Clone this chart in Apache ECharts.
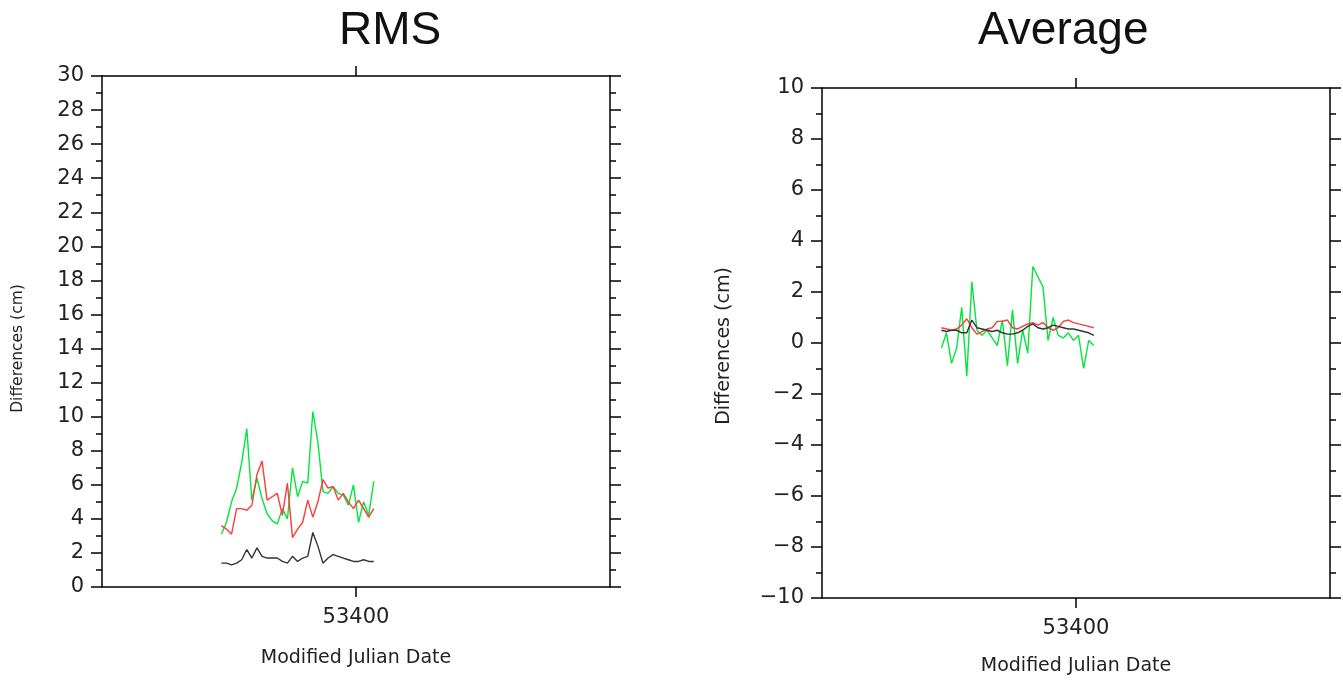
<!DOCTYPE html>
<html>
<head>
<meta charset="utf-8">
<script src="https://cdn.jsdelivr.net/npm/echarts@6/dist/echarts.min.js"></script>
<style>
    html, body { margin: 0; padding: 0; background: #fff; }
    #main { width: 1343px; height: 681px; }
</style>
</head>
<body>
<div id="main"></div>
<script>
// MJD dates of the samples
var dates = [53347, 53349, 53351, 53353, 53355, 53357, 53359, 53361, 53363, 53365,
             53367, 53369, 53371, 53373, 53375, 53377, 53379, 53381, 53383, 53385,
             53387, 53389, 53391, 53393, 53395, 53397, 53399, 53401, 53403, 53405, 53407];

// RMS (cm)
var rmsGreen = [3.1, 3.8, 5.0, 5.8, 7.3, 9.3, 5.1, 6.4, 5.2, 4.3, 3.9, 3.7, 4.6, 4.0, 7.0, 5.3,
                6.2, 6.1, 10.3, 8.5, 5.6, 5.5, 5.9, 5.5, 5.4, 4.8, 6.0, 3.8, 5.0, 4.2, 6.2];
var rmsRed = [3.6, 3.4, 3.1, 4.6, 4.6, 4.5, 4.8, 6.6, 7.4, 5.1, 5.3, 5.5, 4.2, 6.1, 2.9, 3.4,
              3.8, 5.1, 4.1, 5.0, 6.3, 5.8, 5.9, 5.1, 5.5, 5.0, 4.6, 5.1, 4.6, 4.1, 4.6];
var rmsBlack = [1.4, 1.4, 1.3, 1.4, 1.6, 2.2, 1.7, 2.3, 1.8, 1.7, 1.7, 1.7, 1.5, 1.4, 1.8, 1.5,
                1.7, 1.8, 3.2, 2.4, 1.4, 1.7, 1.9, 1.8, 1.7, 1.6, 1.5, 1.5, 1.6, 1.5, 1.5];

// Average (cm)
var avgGreen = [-0.2, 0.4, -0.8, -0.2, 1.4, -1.3, 2.4, 0.5, 0.3, 0.5, 0.2, -0.1, 0.9, -0.9, 1.3, -0.8,
                0.5, -0.4, 3.0, 2.6, 2.2, 0.1, 1.0, 0.3, 0.2, 0.4, 0.1, 0.3, -1.0, 0.1, -0.1];
var avgRed = [0.6, 0.55, 0.5, 0.55, 0.7, 0.95, 0.6, 0.35, 0.45, 0.55, 0.6, 0.85, 0.85, 0.9, 0.6, 0.55,
              0.65, 0.75, 0.8, 0.7, 0.8, 0.6, 0.5, 0.6, 0.85, 0.9, 0.8, 0.75, 0.7, 0.65, 0.6];
var avgBlack = [0.5, 0.45, 0.5, 0.5, 0.4, 0.4, 0.9, 0.6, 0.55, 0.5, 0.45, 0.5, 0.4, 0.35, 0.35, 0.4,
                0.5, 0.65, 0.75, 0.6, 0.55, 0.6, 0.7, 0.65, 0.6, 0.55, 0.55, 0.5, 0.45, 0.4, 0.3];

var xTicks = [53400];

var TITLE_FONT = 'Liberation Sans, Arial, sans-serif';
var FONT = 'DejaVu Sans, sans-serif';
var lineStyle = { color: '#000', width: 1.5 };

function pairs(vals) {
    var out = [];
    for (var i = 0; i < dates.length; i++) out.push([dates[i], vals[i]]);
    return out;
}

function xAxes(grid, gap) {
    return [{
        gridIndex: grid, type: 'value', position: 'bottom',
        min: 53300, max: 53500,
        name: 'Modified Julian Date', nameLocation: 'middle', nameGap: gap,
        nameTextStyle: { fontFamily: FONT, fontSize: 19, color: '#222' },
        axisLine: { onZero: false, lineStyle: lineStyle },
        axisTick: { customValues: xTicks, length: 10, lineStyle: lineStyle },
        axisLabel: { customValues: xTicks, margin: 20, formatter: function (v) { return String(v); },
                     fontFamily: FONT, fontSize: 21, color: '#222' },
        splitLine: { show: false }
    }, {
        gridIndex: grid, type: 'value', position: 'top',
        min: 53300, max: 53500,
        axisLine: { onZero: false, lineStyle: lineStyle },
        axisTick: { customValues: xTicks, length: 10, lineStyle: lineStyle },
        axisLabel: { show: false },
        splitLine: { show: false }
    }];
}

function yAxes(grid, min, max, gap, nameSize, namePad) {
    var fmt = function (v) { return v < 0 ? '\u2212' + (-v) : '' + v; };
    return [{
        gridIndex: grid, type: 'value', position: 'left',
        min: min, max: max, interval: 2,
        name: 'Differences (cm)', nameLocation: 'middle', nameGap: gap,
        nameTextStyle: { fontFamily: FONT, fontSize: nameSize, color: '#222', padding: namePad },
        axisLine: { onZero: false, lineStyle: lineStyle },
        axisTick: { length: 11, lineStyle: lineStyle },
        minorTick: { show: true, splitNumber: 2, length: 6, lineStyle: lineStyle },
        axisLabel: { margin: 18, formatter: fmt, fontFamily: FONT, fontSize: 21, color: '#222' },
        splitLine: { show: false }
    }, {
        gridIndex: grid, type: 'value', position: 'right',
        min: min, max: max, interval: 2,
        axisLine: { onZero: false, lineStyle: lineStyle },
        axisTick: { length: 11, lineStyle: lineStyle },
        minorTick: { show: true, splitNumber: 2, length: 6, lineStyle: lineStyle },
        axisLabel: { show: false },
        splitLine: { show: false }
    }];
}

function line(vals, color, xi, yi) {
    return {
        type: 'line', data: pairs(vals), xAxisIndex: xi, yAxisIndex: yi,
        showSymbol: false, silent: true, animation: false,
        lineStyle: { color: color, width: 1.4 }
    };
}

var chart = echarts.init(document.getElementById('main'));
chart.setOption({
    backgroundColor: '#fff',
    animation: false,
    title: [
        { text: 'RMS', left: 339, top: 8, padding: 0,
          textStyle: { fontFamily: TITLE_FONT, fontSize: 46, fontWeight: 'normal', color: '#111' } },
        { text: 'Average', left: 978, top: 8, padding: 0,
          textStyle: { fontFamily: TITLE_FONT, fontSize: 46, fontWeight: 'normal', color: '#111' } }
    ],
    grid: [
        { left: 102, top: 76, width: 508, height: 511 },
        { left: 822, top: 88, width: 508, height: 512 }
    ],
    xAxis: xAxes(0, 62).concat(xAxes(1, 59)),
    yAxis: yAxes(0, 0, 30, 76, 15.5, [0, 34, 0, 0]).concat(yAxes(1, -10, 10, 88, 19, [0, 6, 0, 0])),
    series: [
        line(rmsGreen, '#00e63c', 0, 0),
        line(rmsRed, '#ff3a3a', 0, 0),
        line(rmsBlack, '#333', 0, 0),
        line(avgGreen, '#00e63c', 2, 2),
        line(avgRed, '#ff3a3a', 2, 2),
        line(avgBlack, '#333', 2, 2)
    ]
});
</script>
</body>
</html>
